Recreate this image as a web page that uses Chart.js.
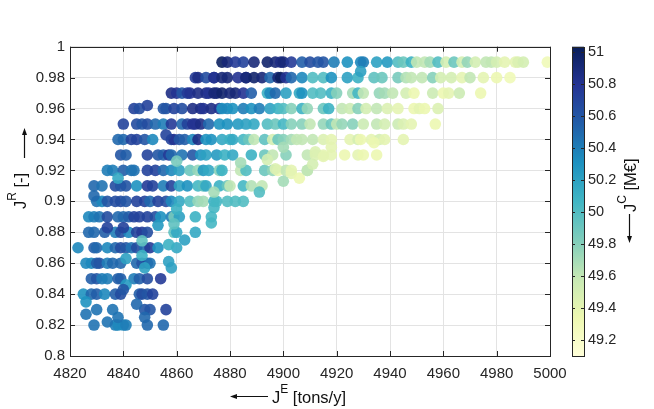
<!DOCTYPE html>
<html>
<head>
<meta charset="utf-8">
<script src="https://cdn.jsdelivr.net/npm/chart.js@4.4.0/dist/chart.umd.min.js"></script>
<style>
  html, body { margin: 0; padding: 0; background: #fff; }
  #wrap { width: 654px; height: 409px; }
</style>
</head>
<body>
<div id="wrap"><canvas id="paretoChart" width="654" height="409"></canvas></div>
<script>
// Tick labels
const xTicks = [4820, 4840, 4860, 4880, 4900, 4920, 4940, 4960, 4980, 5000];
const yTicks = [0.8, 0.82, 0.84, 0.86, 0.88, 0.9, 0.92, 0.94, 0.96, 0.98, 1];
const cTicks = [49.2, 49.4, 49.6, 49.8, 50, 50.2, 50.4, 50.6, 50.8, 51];
const costRange = [49.1, 51.03];

// Solutions lying on the reliability levels: J^E per row, J^C per row
const rowLevels = [0.99, 0.98, 0.97, 0.96, 0.95, 0.94, 0.93, 0.92, 0.91, 0.90, 0.89, 0.88, 0.87, 0.86, 0.85, 0.84, 0.83, 0.82];
const rowEmissions = [
  [4877, 4879, 4882, 4885, 4889, 4894, 4897, 4899, 4900, 4903, 4907, 4910, 4913, 4915, 4919, 4924, 4929, 4930, 4935, 4939, 4943, 4945, 4948, 4950, 4953, 4955, 4958, 4961, 4964, 4967, 4969, 4972, 4976, 4978, 4980, 4983, 4987, 4988, 4990, 4999],
  [4867, 4868, 4871, 4874, 4874, 4877, 4879, 4883, 4886, 4886, 4889, 4892, 4895, 4898, 4899, 4901, 4903, 4907, 4911, 4915, 4918, 4924, 4928, 4934, 4937, 4943, 4946, 4948, 4952, 4956, 4959, 4963, 4967, 4970, 4975, 4980, 4985],
  [4858, 4860, 4862, 4864, 4865, 4868, 4871, 4872, 4874, 4875, 4877, 4880, 4882, 4885, 4888, 4894, 4895, 4897, 4901, 4906, 4907, 4911, 4914, 4918, 4920, 4926, 4928, 4930, 4936, 4938, 4941, 4946, 4949, 4956, 4960, 4962, 4966, 4974],
  [4844, 4846, 4855, 4856, 4859, 4862, 4866, 4869, 4870, 4873, 4876, 4877, 4879, 4881, 4885, 4888, 4891, 4895, 4898, 4900, 4903, 4907, 4909, 4915, 4917, 4922, 4925, 4928, 4931, 4935, 4939, 4943, 4949, 4951, 4953, 4958],
  [4840, 4845, 4847, 4849, 4852, 4855, 4858, 4862, 4864, 4866, 4867, 4869, 4872, 4876, 4879, 4883, 4886, 4889, 4894, 4897, 4900, 4903, 4907, 4910, 4915, 4918, 4920, 4922, 4926, 4930, 4935, 4938, 4943, 4945, 4948, 4957],
  [4838, 4840, 4843, 4845, 4848, 4851, 4858, 4859, 4861, 4863, 4866, 4868, 4871, 4873, 4877, 4880, 4881, 4885, 4887, 4889, 4893, 4896, 4898, 4900, 4903, 4905, 4907, 4911, 4915, 4918, 4925, 4928, 4929, 4933, 4936, 4938, 4945],
  [4839, 4841, 4849, 4853, 4855, 4857, 4858, 4862, 4866, 4869, 4871, 4875, 4878, 4881, 4888, 4893, 4896, 4901, 4909, 4912, 4915, 4918, 4923, 4928, 4930, 4935],
  [4834, 4836, 4840, 4843, 4844, 4849, 4852, 4855, 4858, 4861, 4865, 4868, 4870, 4872, 4876, 4877, 4884, 4886, 4893, 4896, 4898, 4901, 4903, 4909],
  [4829, 4832, 4837, 4839, 4841, 4845, 4849, 4851, 4855, 4858, 4861, 4864, 4868, 4870, 4871, 4876, 4879, 4880, 4885, 4888, 4892],
  [4830, 4832, 4834, 4837, 4839, 4841, 4845, 4848, 4850, 4853, 4856, 4858, 4861, 4865, 4868, 4870, 4874, 4875, 4879, 4882, 4885],
  [4827, 4829, 4831, 4834, 4838, 4840, 4842, 4844, 4846, 4849, 4852, 4854, 4858, 4859, 4861, 4867, 4873],
  [4827, 4829, 4833, 4837, 4839, 4842, 4845, 4847, 4849, 4859, 4860, 4867],
  [4823, 4829, 4830, 4834, 4837, 4839, 4841, 4843, 4845, 4848, 4850, 4853, 4860],
  [4826, 4828, 4830, 4831, 4834, 4836, 4839, 4845, 4847, 4849, 4850],
  [4828, 4830, 4832, 4834, 4838, 4839, 4844, 4846, 4849, 4854],
  [4825, 4828, 4830, 4833, 4837, 4839, 4846, 4847, 4849, 4851],
  [4830, 4836, 4848, 4850, 4856],
  [4829, 4837, 4838, 4840, 4841, 4849, 4855]
];
const rowCosts = [
  [51.0, 50.9, 50.75, 50.7, 50.9, 50.95, 50.9, 50.85, 50.9, 50.75, 50.55, 50.65, 50.6, 50.6, 50.4, 50.3, 50.35, 50.4, 50.2, 50.25, 50.0, 49.9, 50.1, 49.6, 49.6, 49.7, 50.0, 49.5, 49.9, 49.5, 49.75, 49.5, 49.6, 49.6, 49.5, 49.4, 49.4, 49.45, 49.5, 49.3],
  [50.75, 50.85, 50.65, 50.85, 50.8, 50.9, 50.9, 50.8, 50.85, 50.9, 50.95, 50.9, 50.5, 50.9, 51.0, 50.8, 50.5, 50.35, 50.0, 50.0, 50.3, 50.2, 50.1, 49.95, 49.9, 49.85, 49.65, 49.6, 49.6, 49.8, 49.5, 49.5, 49.4, 49.6, 49.4, 49.35, 49.3],
  [50.85, 50.8, 50.6, 50.75, 50.8, 50.85, 50.85, 50.8, 50.9, 50.9, 50.95, 50.9, 50.9, 50.8, 50.55, 50.1, 50.35, 50.5, 50.2, 50.15, 50.3, 50.0, 50.0, 50.1, 49.8, 49.7, 50.05, 49.6, 49.75, 49.7, 49.6, 49.5, 49.35, 49.55, 49.35, 49.4, 49.55, 49.35],
  [50.7, 50.65, 50.6, 50.6, 50.7, 50.65, 50.85, 50.85, 50.8, 50.85, 50.8, 50.3, 50.35, 50.3, 50.4, 50.3, 50.4, 50.2, 50.1, 50.0, 49.8, 50.1, 49.75, 49.9, 50.1, 49.6, 49.55, 49.8, 49.5, 49.6, 49.45, 49.4, 49.35, 49.4, 49.35, 49.45],
  [50.7, 50.65, 50.6, 50.65, 50.5, 50.4, 50.75, 50.5, 50.7, 50.8, 50.8, 50.85, 50.5, 50.3, 50.3, 50.25, 50.2, 50.15, 50.0, 49.9, 50.05, 49.8, 49.8, 49.6, 49.75, 49.9, 49.6, 49.75, 49.8, 49.55, 49.6, 49.5, 49.55, 49.45, 49.4, 49.35],
  [50.5, 50.5, 50.7, 50.7, 50.6, 50.35, 50.7, 50.8, 50.6, 50.55, 50.35, 50.85, 50.3, 50.3, 50.15, 50.1, 50.15, 50.05, 49.9, 49.6, 49.95, 49.5, 49.9, 49.8, 49.7, 49.6, 49.6, 49.6, 49.45, 49.4, 49.4, 49.5, 49.35, 49.4, 49.5, 49.4, 49.4],
  [50.6, 50.55, 50.7, 50.6, 50.55, 50.75, 50.5, 50.45, 50.6, 50.3, 50.2, 50.25, 50.1, 50.15, 50.1, 49.9, 49.6, 49.8, 49.6, 49.45, 49.4, 49.4, 49.35, 49.4, 49.35, 49.35],
  [50.4, 50.4, 50.55, 50.45, 50.45, 50.7, 50.7, 50.5, 50.35, 50.2, 49.9, 49.75, 50.25, 50.15, 49.8, 50.1, 49.6, 50.0, 49.9, 49.75, 49.35, 49.6, 49.4, 49.65],
  [50.5, 50.45, 50.65, 50.6, 50.6, 50.3, 50.75, 50.7, 50.4, 50.7, 50.2, 50.3, 50.05, 49.95, 50.15, 50.1, 49.9, 49.6, 50.05, 49.65, 49.6],
  [50.45, 50.35, 50.6, 50.65, 50.65, 50.6, 50.7, 50.7, 50.5, 50.7, 50.65, 50.35, 50.15, 50.0, 49.75, 49.7, 50.1, 50.05, 50.0, 50.0, 50.0],
  [50.35, 50.4, 50.45, 50.65, 50.5, 50.5, 50.55, 50.7, 50.7, 50.7, 50.65, 50.3, 50.4, 49.85, 50.2, 50.1, 50.05],
  [50.5, 50.5, 50.55, 50.4, 50.65, 50.35, 50.7, 50.75, 50.65, 49.95, 50.15, 50.15],
  [50.35, 50.55, 50.5, 50.35, 50.5, 50.65, 50.6, 50.45, 50.65, 50.5, 50.75, 50.3, 50.15],
  [50.35, 50.35, 50.55, 50.6, 50.4, 50.5, 50.5, 50.5, 50.6, 50.7, 50.45],
  [50.55, 50.6, 50.4, 50.4, 50.55, 50.55, 50.4, 50.55, 50.65, 50.75],
  [50.3, 50.5, 50.55, 50.35, 50.55, 50.65, 50.55, 50.65, 50.6, 50.7],
  [50.45, 50.45, 50.6, 50.6, 50.7],
  [50.45, 50.4, 50.35, 50.35, 50.4, 50.5, 50.5]
];

// Solutions between the levels
const extraEmissions = [4929, 4849, 4856, 4829, 4834, 4840, 4853, 4863, 4857, 4841, 4847, 4848, 4857, 4858, 4841, 4840, 4826, 4826, 4838, 4845, 4834, 4848,
  4884, 4900, 4894, 4897, 4903, 4906, 4909, 4911, 4912, 4915, 4918, 4934, 4874, 4891, 4860, 4859, 4874, 4873, 4847, 4838, 4860, 4900];
const extraReliability = [0.984, 0.962, 0.943, 0.9035, 0.883, 0.883, 0.8845, 0.875, 0.872, 0.863, 0.865, 0.857, 0.861, 0.857, 0.846, 0.843, 0.835, 0.827, 0.825, 0.8335, 0.822, 0.825,
  0.925, 0.935, 0.927, 0.921, 0.918, 0.915, 0.920, 0.924, 0.932, 0.929, 0.935, 0.938, 0.906, 0.906, 0.895, 0.8855, 0.896, 0.886, 0.8745, 0.915, 0.926, 0.913];
const extraCosts = [50.2, 50.7, 50.7, 50.5, 50.7, 50.7, 50.25, 50.2, 50.1, 50.2, 50.1, 50.2, 50.2, 50.2, 50.25, 50.6, 50.3, 50.45, 50.45, 50.5, 50.45, 50.5,
  49.7, 49.7, 49.5, 49.45, 49.4, 49.35, 49.6, 49.5, 49.45, 49.4, 49.4, 49.35, 49.7, 50.0, 50.1, 49.95, 50.05, 50.05, 49.95, 50.15, 49.85, 49.7];

// YlGnBu colour map
const ylGnBu = [
  [255, 255, 217], [237, 248, 177], [199, 233, 180], [127, 205, 187], [65, 182, 196],
  [29, 145, 192], [34, 94, 168], [37, 52, 148], [8, 29, 88]
];

function costColor(c, alpha) {
  let t = (c - costRange[0]) / (costRange[1] - costRange[0]);
  t = Math.min(1, Math.max(0, t));
  const p = t * (ylGnBu.length - 1);
  const i = Math.min(Math.floor(p), ylGnBu.length - 2);
  const f = p - i;
  const a = ylGnBu[i], b = ylGnBu[i + 1];
  const rgb = a.map((v, k) => Math.round(v + (b[k] - v) * f));
  return `rgba(${rgb[0]},${rgb[1]},${rgb[2]},${alpha})`;
}

const points = [];
const colors = [];
rowLevels.forEach((r, i) => {
  rowEmissions[i].forEach((e, j) => {
    points.push({ x: e, y: r });
    colors.push(costColor(rowCosts[i][j], 0.9));
  });
});
extraEmissions.forEach((e, i) => {
  points.push({ x: e, y: extraReliability[i] });
  colors.push(costColor(extraCosts[i], 0.9));
});

const FONT = '"Liberation Sans", Arial, Helvetica, sans-serif';
const INK = '#262626';

// text with a raised (superscript) part
function drawRichText(ctx, parts, x, y) {
  let cx = x;
  parts.forEach(([text, size, rise]) => {
    ctx.font = size + 'px ' + FONT;
    ctx.fillText(text, cx, y - rise);
    cx += ctx.measureText(text).width;
  });
  return cx - x;
}

function drawArrow(ctx, x1, y1, x2, y2) {
  const ang = Math.atan2(y2 - y1, x2 - x1);
  ctx.beginPath();
  ctx.moveTo(x1, y1);
  ctx.lineTo(x2 - 5 * Math.cos(ang), y2 - 5 * Math.sin(ang));
  ctx.lineWidth = 1.2;
  ctx.stroke();
  ctx.beginPath();
  ctx.moveTo(x2, y2);
  ctx.lineTo(x2 - 7 * Math.cos(ang) + 2.5 * Math.sin(ang), y2 - 7 * Math.sin(ang) - 2.5 * Math.cos(ang));
  ctx.lineTo(x2 - 7 * Math.cos(ang) - 2.5 * Math.sin(ang), y2 - 7 * Math.sin(ang) + 2.5 * Math.cos(ang));
  ctx.closePath();
  ctx.fill();
}

const framePlugin = {
  id: 'frame',
  afterDatasetsDraw(chart) {
    const { ctx, chartArea: a, scales } = chart;
    ctx.save();
    ctx.strokeStyle = INK;
    ctx.lineWidth = 1;

    // inward tick marks on all four sides
    ctx.beginPath();
    xTicks.forEach(v => {
      const px = Math.round(scales.x.getPixelForValue(v)) + 0.5;
      ctx.moveTo(px, a.bottom); ctx.lineTo(px, a.bottom - 5);
      ctx.moveTo(px, a.top); ctx.lineTo(px, a.top + 5);
    });
    yTicks.forEach(v => {
      const py = Math.round(scales.y.getPixelForValue(v)) + 0.5;
      ctx.moveTo(a.left, py); ctx.lineTo(a.left + 5, py);
      ctx.moveTo(a.right, py); ctx.lineTo(a.right - 5, py);
    });
    ctx.stroke();
    ctx.strokeRect(Math.round(a.left) + 0.5, Math.round(a.top) + 0.5, Math.round(a.right - a.left), Math.round(a.bottom - a.top));

    // colour bar, placed on its own scale
    const cb = scales.cb;
    const top = cb.getPixelForValue(costRange[1]);
    const bottom = cb.getPixelForValue(costRange[0]);
    const left = 572, width = 12;
    const grad = ctx.createLinearGradient(0, bottom, 0, top);
    ylGnBu.forEach((c, i) => grad.addColorStop(i / (ylGnBu.length - 1), `rgb(${c[0]},${c[1]},${c[2]})`));
    ctx.fillStyle = grad;
    ctx.fillRect(left, top, width, bottom - top);
    ctx.beginPath();
    cTicks.forEach(v => {
      const py = Math.round(cb.getPixelForValue(v)) + 0.5;
      ctx.moveTo(left + width, py); ctx.lineTo(left + width - 3, py);
      ctx.moveTo(left, py); ctx.lineTo(left + 3, py);
    });
    ctx.stroke();
    ctx.strokeRect(left + 0.5, Math.round(top) + 0.5, width, Math.round(bottom - top));
    ctx.restore();
  },
  afterDraw(chart) {
    const { ctx } = chart;
    ctx.save();
    ctx.fillStyle = '#111';
    ctx.strokeStyle = '#111';
    ctx.textBaseline = 'alphabetic';
    ctx.textAlign = 'left';

    // x axis title
    drawArrow(ctx, 268, 396.5, 230, 396.5);
    drawRichText(ctx, [['J', 16.5, 0], ['E', 12, 10], [' [tons/y]', 16.5, 0]], 272, 403);

    // y axis title (reads upwards)
    ctx.save();
    ctx.translate(26, 209);
    ctx.rotate(-Math.PI / 2);
    drawRichText(ctx, [['J', 16.5, 0], ['R', 12, 10], [' [-]', 16.5, 0]], 0, 0);
    ctx.restore();
    drawArrow(ctx, 24.5, 158, 24.5, 128);

    // colour bar title
    ctx.save();
    ctx.translate(636, 212);
    ctx.rotate(-Math.PI / 2);
    drawRichText(ctx, [['J', 16.5, 0], ['C', 12, 10], [' [M€]', 16.5, 0]], 0, 0);
    ctx.restore();
    drawArrow(ctx, 629.5, 214, 629.5, 243);
    ctx.restore();
  }
};

const ctx = document.getElementById('paretoChart').getContext('2d');
new Chart(ctx, {
  type: 'scatter',
  data: {
    datasets: [{
      data: points,
      pointRadius: 5.8,
      pointBorderWidth: 0,
      pointBorderColor: 'rgba(0,0,0,0)',
      pointBackgroundColor: colors
    }]
  },
  options: {
    responsive: false,
    animation: false,
    events: [],
    layout: { padding: { top: 10, left: 0, right: 0, bottom: 0 } },
    plugins: { legend: { display: false }, tooltip: { enabled: false } },
    scales: {
      x: {
        type: 'linear', min: 4820, max: 5000,
        afterBuildTicks: s => { s.ticks = xTicks.map(v => ({ value: v })); },
        afterFit: s => { s.height = 53; },
        grid: { color: '#e3e3e3', drawTicks: false },
        border: { display: false },
        ticks: { color: INK, font: { family: FONT, size: 15 }, padding: 9, maxRotation: 0, callback: v => String(v) }
      },
      y: {
        type: 'linear', min: 0.8, max: 1,
        afterBuildTicks: s => { s.ticks = yTicks.map(v => ({ value: v })); },
        afterFit: s => { s.width = 70; },
        grid: { color: '#e3e3e3', drawTicks: false },
        border: { display: false },
        ticks: { color: INK, font: { family: FONT, size: 15 }, padding: 5, callback: v => String(+v.toFixed(2)) }
      },
      cb: {
        type: 'linear', position: 'right', min: costRange[0], max: costRange[1],
        afterBuildTicks: s => { s.ticks = cTicks.map(v => ({ value: v })); },
        afterFit: s => { s.width = 104; },
        grid: { display: false, drawTicks: false },
        border: { display: false },
        ticks: { color: INK, font: { family: FONT, size: 14.5 }, padding: 38, callback: v => String(+v.toFixed(1)) }
      }
    }
  },
  plugins: [framePlugin]
});
</script>
</body>
</html>
